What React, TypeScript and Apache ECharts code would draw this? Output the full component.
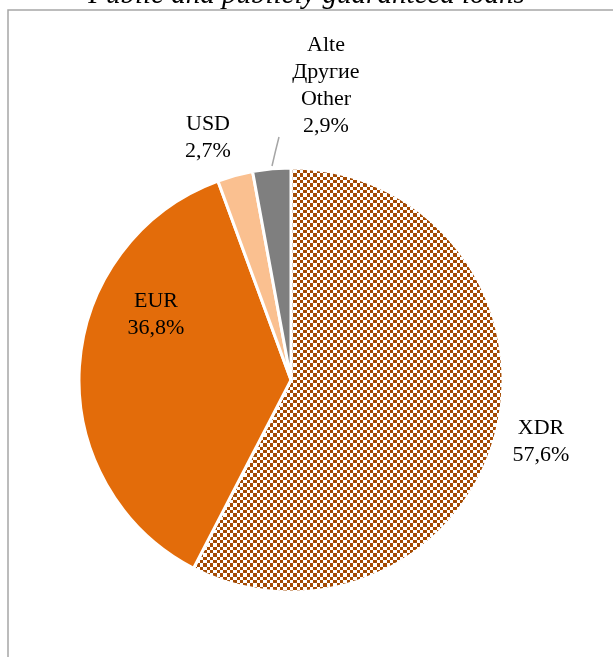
import React, { useEffect, useRef } from "react";
import * as echarts from "echarts";

const TITLE = "Public and publicly guaranteed loans";
const categories = ["XDR", "EUR", "USD", "Alte\nДругие\nOther"];
const values = [57.6, 36.8, 2.7, 2.9];
const colors = ["pattern", "#E36C0A", "#FAC090", "#7F7F7F"];

// label anchor positions (centre of the label block), px
const labelPos: [number, number][] = [
  [541, 440],
  [156, 313],
  [208, 136],
  [326, 84],
];

function makePattern(): HTMLCanvasElement {
  const c = document.createElement("canvas");
  c.width = 20;
  c.height = 20;
  const ctx = c.getContext("2d")!;
  ctx.fillStyle = "#ffffff";
  ctx.fillRect(0, 0, 20, 20);
  ctx.fillStyle = "#A34A02";
  const edges = [0, 3, 7, 10, 13, 17, 20];
  for (let i = 0; i < 6; i++) {
    for (let j = 0; j < 6; j++) {
      if ((i + j) % 2 === 0) {
        ctx.fillRect(edges[i], edges[j], edges[i + 1] - edges[i], edges[j + 1] - edges[j]);
      }
    }
  }
  return c;
}

export default function App() {
  const ref = useRef<HTMLDivElement>(null);
  useEffect(() => {
    if (!ref.current) return;
    const chart = echarts.init(ref.current, null, { renderer: "svg" });
    const pat = makePattern();
    const font = "Liberation Serif";
    chart.setOption({
      animation: false,
      title: {
        text: TITLE,
        left: "center",
        top: -27,
        textStyle: {
          fontFamily: font,
          fontStyle: "italic",
          fontWeight: "normal",
          fontSize: 29,
          color: "#000",
        },
      },
      graphic: [
        {
          type: "rect",
          shape: { x: 8, y: 10, width: 800, height: 800 },
          style: { fill: "none", stroke: "#A6A6A6", lineWidth: 1.5 },
          silent: true,
        },
      ],
      series: [
        {
          type: "pie",
          center: [291, 380],
          radius: 212,
          startAngle: 90,
          clockwise: true,
          avoidLabelOverlap: false,
          itemStyle: { borderColor: "#fff", borderWidth: 3 },
          label: {
            show: true,
            position: "outside",
            fontFamily: font,
            fontSize: 22,
            lineHeight: 27,
            color: "#000",
            align: "center",
            formatter: (p: any) =>
              p.name + "\n" + values[p.dataIndex].toFixed(1).replace(".", ",") + "%",
          },
          labelLine: { show: false },
          labelLayout: (p: any) => {
            const [x, y] = labelPos[p.dataIndex];
            const res: any = {
              x,
              y,
              align: "center",
              verticalAlign: "middle",
            };
            if (p.dataIndex === 3) {
              res.labelLinePoints = [
                [272, 166],
                [275.5, 151],
                [279, 137],
              ];
            }
            return res;
          },
          data: categories.map((name, i) => ({
            name,
            value: values[i],
            itemStyle: {
              color:
                colors[i] === "pattern"
                  ? { image: pat, repeat: "repeat" }
                  : colors[i],
            },
            labelLine:
              i === 3
                ? { show: true, lineStyle: { color: "#A6A6A6", width: 1.5 } }
                : { show: false },
          })),
        },
      ],
    });
    return () => chart.dispose();
  }, []);
  return (
    <div
      ref={ref}
      style={{ position: "fixed", left: 0, top: 0, width: 613, height: 657 }}
    />
  );
}
